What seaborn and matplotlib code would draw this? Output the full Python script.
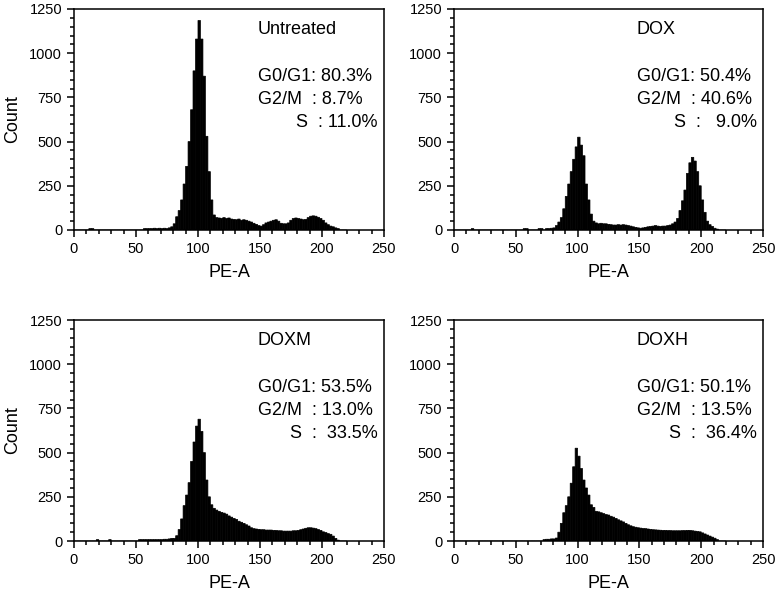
import numpy as np
import pandas as pd
import seaborn as sns
import matplotlib
matplotlib.use('Agg')
import matplotlib.pyplot as plt
from matplotlib.ticker import MultipleLocator

# PE-A histogram counts, 2-unit bins from 0 to 220
bin_edges = [float(b) for b in range(0, 222, 2)]
bin_mids = [float(b) + 1.0 for b in range(0, 220, 2)]

untreated = [0, 0, 0, 0, 0, 0, 8, 8, 0, 0,
             0, 0, 0, 0, 0, 0, 0, 0, 0, 0,
             0, 0, 0, 0, 0, 0, 0, 0, 8, 8,
             8, 8, 10, 8, 10, 8, 10, 8, 12, 18,
             35, 75, 110, 170, 260, 360, 500, 680, 900, 1080,
             1185, 1080, 870, 530, 330, 170, 85, 70, 68, 66,
             70, 65, 68, 62, 60, 58, 62, 55, 58, 55,
             50, 45, 38, 32, 25, 22, 30, 40, 45, 50,
             55, 58, 50, 38, 35, 35, 40, 55, 65, 68,
             65, 62, 58, 60, 70, 78, 80, 78, 72, 65,
             55, 40, 30, 22, 18, 12, 8, 0, 0, 0]

dox = [0, 0, 0, 0, 0, 0, 0, 8, 0, 0,
       0, 0, 0, 0, 0, 0, 0, 0, 0, 0,
       0, 0, 0, 0, 0, 0, 0, 0, 8, 8,
       0, 0, 0, 0, 8, 8, 0, 8, 8, 10,
       12, 25, 45, 70, 120, 190, 260, 330, 400, 470,
       525, 480, 420, 260, 170, 90, 50, 40, 35, 38,
       35, 35, 32, 30, 28, 28, 30, 28, 30, 28,
       25, 22, 18, 15, 12, 10, 12, 15, 18, 20,
       22, 25, 22, 20, 22, 22, 25, 28, 35, 45,
       65, 110, 165, 226, 320, 380, 411, 390, 330, 250,
       170, 100, 50, 30, 20, 10, 5, 0, 0, 0]

doxm = [0, 0, 0, 0, 0, 0, 0, 0, 0, 8,
        0, 0, 0, 0, 8, 0, 0, 0, 0, 0,
        0, 0, 0, 0, 0, 0, 8, 8, 8, 8,
        8, 8, 8, 8, 8, 8, 10, 10, 12, 15,
        15, 30, 65, 125, 200, 260, 330, 450, 560, 650,
        689, 620, 500, 345, 250, 205, 185, 175, 168, 162,
        158, 152, 142, 135, 128, 122, 112, 106, 100, 92,
        85, 75, 70, 68, 66, 64, 64, 62, 62, 62,
        60, 60, 58, 58, 56, 56, 56, 56, 58, 58,
        60, 64, 68, 72, 75, 75, 73, 70, 65, 60,
        52, 48, 42, 38, 28, 15, 5, 0, 0, 0]

doxh = [0, 0, 0, 0, 0, 0, 0, 0, 0, 0,
        0, 0, 0, 0, 0, 0, 0, 0, 0, 0,
        0, 0, 0, 0, 0, 0, 0, 0, 0, 0,
        0, 0, 0, 0, 0, 0, 8, 10, 10, 12,
        12, 17, 50, 100, 160, 200, 250, 327, 420, 525,
        480, 410, 345, 300, 260, 205, 190, 168, 165, 160,
        155, 150, 147, 140, 135, 128, 120, 114, 108, 100,
        92, 86, 81, 78, 75, 73, 71, 70, 68, 66,
        64, 63, 62, 61, 60, 60, 59, 59, 58, 58,
        58, 58, 59, 59, 60, 60, 58, 56, 54, 52,
        46, 40, 34, 28, 22, 16, 8, 0, 0, 0]

panel_names = ['Untreated', 'DOX', 'DOXM', 'DOXH']
g1_labels = ['G0/G1: 80.3%', 'G0/G1: 50.4%', 'G0/G1: 53.5%', 'G0/G1: 50.1%']
g2_labels = ['G2/M  : 8.7%', 'G2/M  : 40.6%', 'G2/M  : 13.0%', 'G2/M  : 13.5%']
s_labels = ['S  : 11.0%', 'S  :   9.0%', 'S  :  33.5%', 'S  :  36.4%']
all_counts = [untreated, dox, doxm, doxh]


def cycle_panel(ax, counts, name, g1, g2, s, show_ylabel):
    """Draw one cell-cycle histogram with its percentages"""

    df = pd.DataFrame({'pe': bin_mids, 'count': [float(c) for c in counts]})
    sns.histplot(data=df, x='pe', weights='count', bins=bin_edges, ax=ax,
                 element='bars', shrink=1, fill=True, color='black', alpha=1,
                 edgecolor='black', linewidth=0.5)

    # stop pixel snapping, which leaves white seams between the narrow bins
    for artist in list(ax.patches) + list(ax.collections):
        artist.set_snap(False)

    ax.set_xlim(0, 250)
    ax.set_ylim(0, 1250)
    ax.xaxis.set_major_locator(MultipleLocator(50))
    ax.xaxis.set_minor_locator(MultipleLocator(10))
    ax.yaxis.set_major_locator(MultipleLocator(250))
    ax.yaxis.set_minor_locator(MultipleLocator(50))
    ax.tick_params(which='major', direction='out', length=5, width=1.1, labelsize=10.5,
                   color='black', labelcolor='black')
    ax.tick_params(which='minor', direction='out', length=3, width=1.1, color='black')
    for spine in ax.spines.values():
        spine.set_visible(True)
        spine.set_linewidth(1.1)
        spine.set_color('black')

    ax.set_xlabel('PE-A', fontsize=13, labelpad=6, color='black')
    if show_ylabel:
        ax.set_ylabel('Count', fontsize=13, labelpad=6, color='black')
    else:
        ax.set_ylabel('')

    ax.text(148, 1132, name, fontsize=13, va='center', ha='left', color='black')
    ax.text(148, 866, g1, fontsize=13, va='center', ha='left', color='black')
    ax.text(148, 736, g2, fontsize=13, va='center', ha='left', color='black')
    ax.text(245, 606, s, fontsize=13, va='center', ha='right', color='black')


sns.set_style('ticks')
plt.rcParams['font.family'] = ['Liberation Sans', 'DejaVu Sans']

fig = plt.figure(figsize=(7.77, 6.07), dpi=100)
positions = [[0.0952, 0.6211, 0.399, 0.3641],
             [0.5843, 0.6211, 0.3977, 0.3641],
             [0.0952, 0.1087, 0.399, 0.3641],
             [0.5843, 0.1087, 0.3977, 0.3641]]

for i in range(4):
    ax = fig.add_axes(positions[i])
    cycle_panel(ax, all_counts[i], panel_names[i], g1_labels[i], g2_labels[i],
                s_labels[i], show_ylabel=(i % 2 == 0))

fig.savefig('out.png', dpi=100)
